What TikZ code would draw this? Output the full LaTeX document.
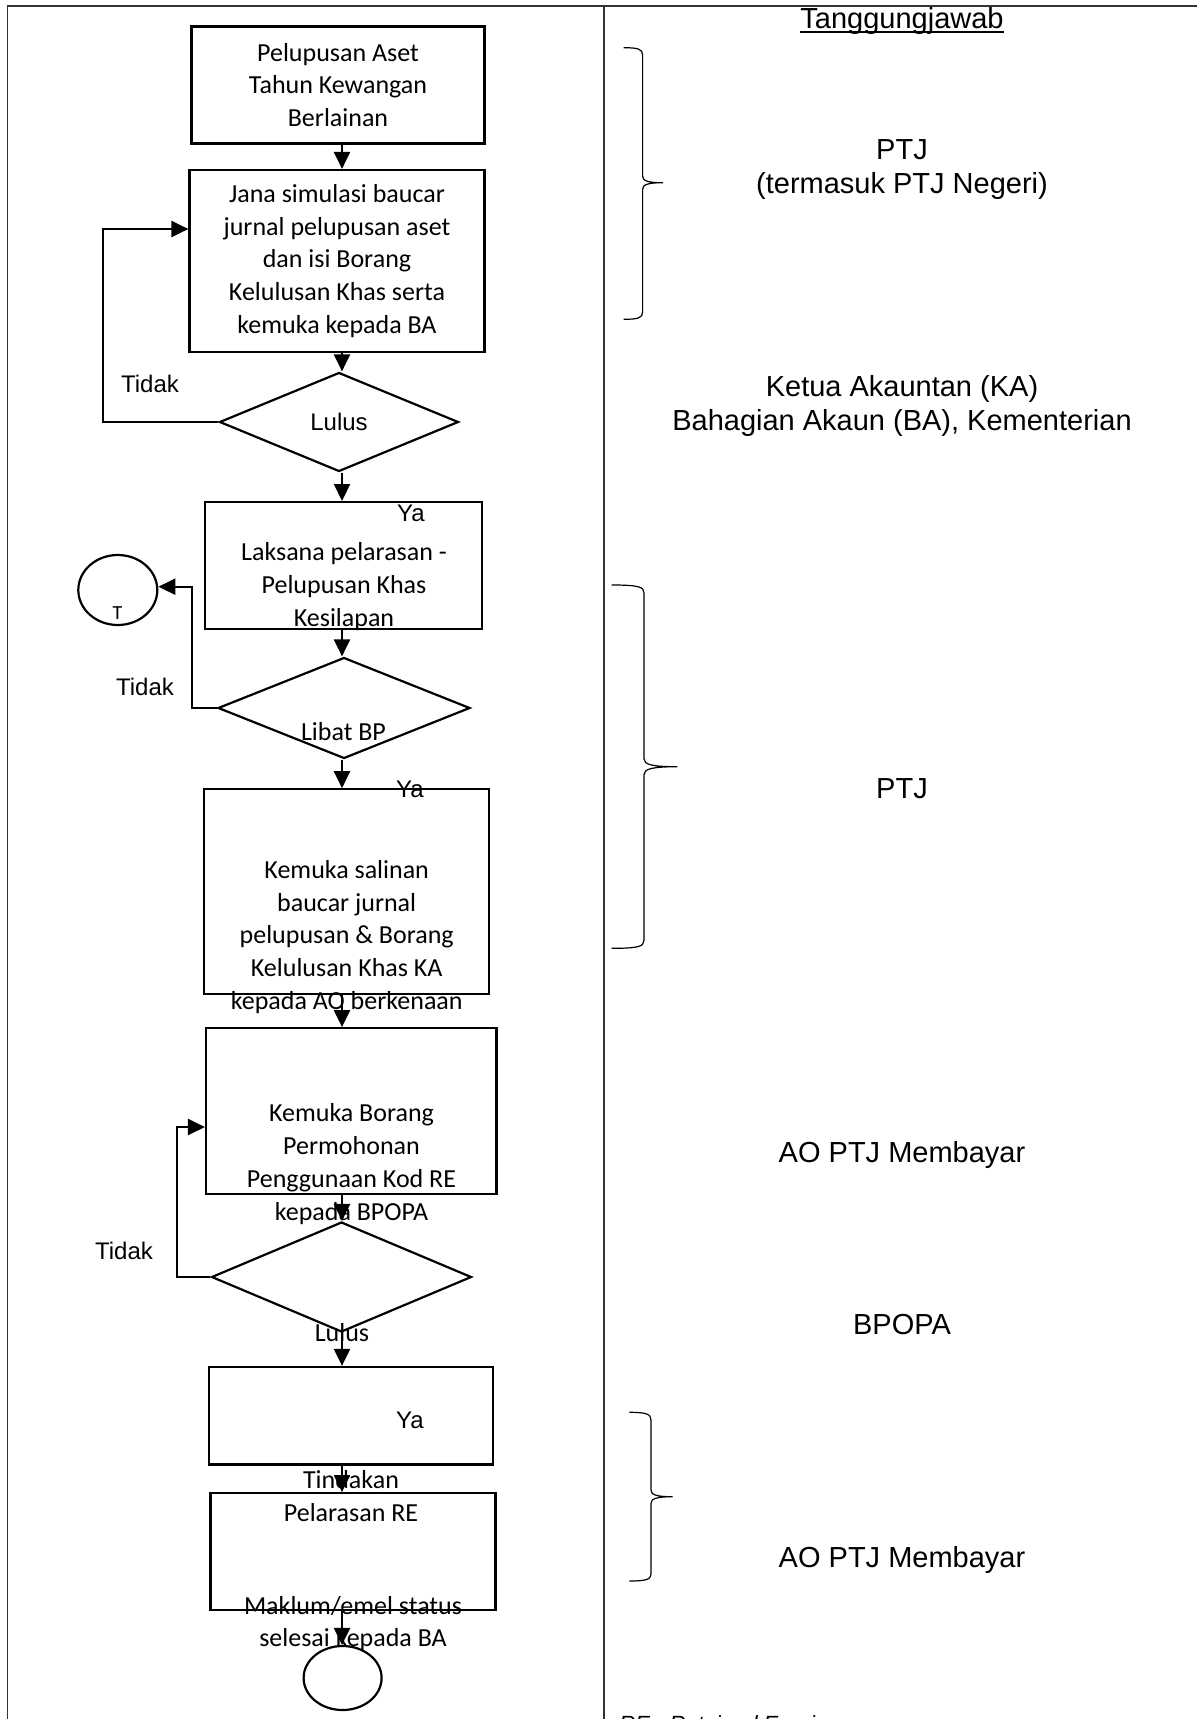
\documentclass[tikz,border=0pt]{standalone}
\usepackage{fontspec}
\setmainfont{Carlito}
\newfontfamily\arialfont{Liberation Sans}
\usetikzlibrary{arrows.meta, shapes.geometric}

\begin{document}
\begin{tikzpicture}[x=0.5pt,y=-0.5pt,
  box/.style={draw, line width=1.1pt, rectangle, inner sep=0pt, align=center,
    font=\fontsize{13pt}{16.4pt}\selectfont},
  decision/.style={draw, line width=1.1pt, diamond, inner sep=0pt},
  term/.style={draw, line width=1.1pt, ellipse, inner sep=0pt},
  txt/.style={align=center, inner sep=0pt, font=\fontsize{13pt}{16.4pt}\selectfont},
  lbl/.style={inner sep=0pt, font=\arialfont\fontsize{12pt}{14pt}\selectfont},
  resp/.style={align=center, inner sep=0pt, font=\arialfont\fontsize{14.5pt}{17pt}\selectfont},
  arr/.style={line width=1.1pt, -{Triangle[length=8.5pt,width=8pt]}},
  frame/.style={line width=0.9pt, draw=black!80},
  brc/.style={line width=0.6pt}]
\useasboundingbox (0,0) rectangle (1197,1719);
\clip (0,0) rectangle (1197,1719);

% table frame
\draw[frame] (7.5,1719) -- (7.5,6) -- (1197,6);
\draw[frame] (604,6) -- (604,1719);

% flow chart
\node[box, minimum width=146.5pt, minimum height=58.5pt] (box1) at (338,85)
  {Pelupusan Aset\\Tahun Kewangan\\Berlainan};
\node[box, minimum width=147.5pt, minimum height=91pt] (box2) at (337,261)
  {Jana simulasi baucar\\jurnal pelupusan aset\\dan isi Borang\\Kelulusan Khas serta\\kemuka kepada BA};
\node[decision, minimum width=119.5pt, minimum height=49.5pt, font=\arialfont\fontsize{12pt}{14pt}\selectfont] (d1) at (339,422) {Lulus};
\node[box, minimum width=138.5pt, minimum height=63.5pt] (box3) at (343.7,565.6) {};
\node[txt] (box3-t) at (344,586.5) {Laksana pelarasan -\\Pelupusan Khas\\Kesilapan};
\node[decision, minimum width=126pt, minimum height=50.5pt] (d2) at (344,708) {};
\node[txt] (d2-t) at (343.5,732) {Libat BP};
\node[box, minimum width=142.5pt, minimum height=102.5pt] (box4) at (346.4,891.8) {};
\node[txt] (box4-t) at (346.7,937) {Kemuka salinan\\baucar jurnal\\pelupusan \& Borang\\Kelulusan Khas KA\\kepada AO berkenaan};
\node[box, minimum width=145.25pt, minimum height=82.8pt] (box5) at (351.3,1111) {};
\node[txt] (box5-t) at (351.5,1164) {Kemuka Borang\\Permohonan\\Penggunaan Kod RE\\kepada BPOPA};
\node[decision, minimum width=130pt, minimum height=55pt] (d3) at (341.5,1277) {};
\node[txt] (d3-t) at (342,1333) {Lulus};
\node[box, minimum width=142pt, minimum height=48.75pt] (box6) at (351.3,1415.7) {};
\node[box, minimum width=142.5pt, minimum height=58.5pt] (box7) at (353,1551.7) {};
\node[txt] (box7-a) at (351,1496.4) {Tindakan\\Pelarasan RE};
\node[txt] (box7-b) at (353,1623.5) {Maklum/emel status\\selesai kepada BA};
\node[term, minimum width=39pt, minimum height=32pt] (end) at (342.6,1678) {};
\node[term, minimum width=39.5pt, minimum height=35pt] (tcirc) at (117.8,590) {};
\node[txt, font=\fontsize{10pt}{12pt}\selectfont] (tcirc-t) at (117.5,613) {T};

% Ya / Tidak
\node[lbl] (ya1) at (411,513) {Ya};
\node[lbl] (ya2) at (410,789) {Ya};
\node[lbl] (ya3) at (410,1420.7) {Ya};
\node[lbl] (tidak1) at (150,383.5) {Tidak};
\node[lbl] (tidak2) at (145,687) {Tidak};
\node[lbl] (tidak3) at (124,1251) {Tidak};

% connectors
\coordinate (spine) at (342,0);
\draw[arr] (box1.south -| spine) -- (box2.north -| spine);
\draw[arr] (box2.south -| spine) -- (d1.north -| spine);
\draw[arr] (d1.south -| spine) -- (box3.north -| spine);
\draw[arr] (box3.south -| spine) -- (d2.north -| spine);
\draw[arr] (d2.south -| spine) -- (box4.north -| spine);
\draw[arr] (box4.south -| spine) -- (box5.north -| spine);
\draw[arr] (box5.south -| spine) -- (d3.north -| spine);
\draw[arr] (d3.south -| spine) -- (box6.north -| spine);
\draw[arr] (box6.south -| spine) -- (box7.north -| spine);
\draw[arr] (box7.south -| spine) -- (end.north -| spine);
\coordinate (l1) at (103,229);
\draw[arr] (d1.west) -| (l1) -- (l1 -| box2.west);
\coordinate (l2) at (192.3,586.7);
\draw[arr] (d2.west) -| (l2) -- (l2 -| tcirc.east);
\coordinate (l3) at (177,1127);
\draw[arr] (d3.west) -| (l3) -- (l3 -| box5.west);

% responsibility column
\node[resp, anchor=base] (tj) at (902,28) {Tanggungjawab};
\draw[line width=0.9pt] ([yshift=-2pt]tj.base west) -- ([yshift=-2pt]tj.base east);
\node[resp] (r1) at (902,170) {PTJ\\(termasuk PTJ Negeri)};
\node[resp] (r2) at (902,406) {Ketua Akauntan (KA)\\Bahagian Akaun (BA), Kementerian};
\node[resp] (r3) at (902,789) {PTJ};
\node[resp] (r4) at (902,1155.4) {AO PTJ Membayar};
\node[resp] (r5) at (902,1324) {BPOPA};
\node[resp] (r6) at (902,1560) {AO PTJ Membayar};
\node[anchor=base west, inner sep=0pt, font=\arialfont\itshape\fontsize{11pt}{13pt}\selectfont] (note) at (619,1731) {RE - Retained Earnings};

% braces
\draw[brc] (623.6,47.7) .. controls (638,47.7) and (642.6,49) .. (642.6,55) -- (642.6,176)
  .. controls (642.6,181) and (648,182.7) .. (663,182.7)
  .. controls (648,182.7) and (642.6,184.5) .. (642.6,189.5) -- (642.6,312)
  .. controls (642.6,318) and (638,319.3) .. (623.6,319.3);
\draw[brc] (611.7,585) .. controls (639,585) and (644,587) .. (644,593) -- (644,759)
  .. controls (644,764.5) and (652,766.7) .. (677.3,766.7)
  .. controls (652,766.7) and (644,769) .. (644,774.5) -- (644,940)
  .. controls (644,946.5) and (639,948.3) .. (611.7,948.3);
\draw[brc] (629.3,1412.3) .. controls (646,1412.3) and (651,1414) .. (651,1420) -- (651,1490)
  .. controls (651,1495) and (657,1496.7) .. (672.7,1496.7)
  .. controls (657,1496.7) and (651,1498.5) .. (651,1503.5) -- (651,1574)
  .. controls (651,1579.5) and (646,1581) .. (629.3,1581);
\end{tikzpicture}
\end{document}
